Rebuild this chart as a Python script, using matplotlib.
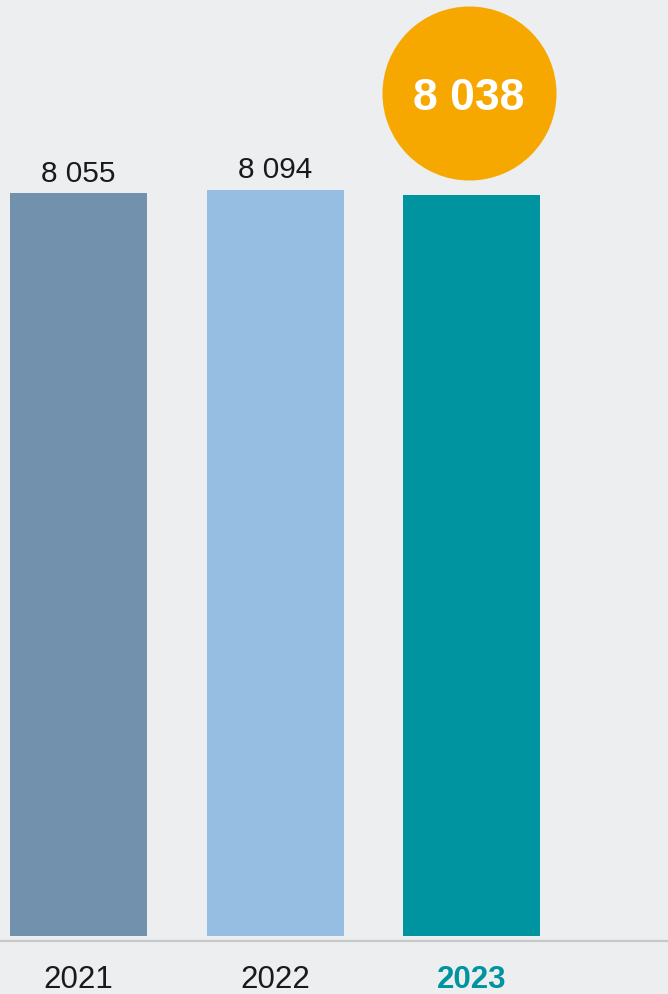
import matplotlib
matplotlib.use("Agg")
import matplotlib.pyplot as plt
from matplotlib.transforms import offset_copy

plt.rcParams['font.family'] = ['Liberation Sans', 'DejaVu Sans']

# datos
anios = ["2021", "2022", "2023"]
valores = [8055, 8094, 8038]
colores = ["#7191ad", "#96bee3", "#0093a0"]
fondo = "#edeef0"


def fmt(v):
    return f"{v:,}".replace(",", " ")


fig = plt.figure(figsize=(6.68, 9.95), dpi=100, facecolor=fondo)
ax = fig.add_axes([0, 53 / 995, 1, 942 / 995])
ax.set_facecolor(fondo)

x = list(range(len(anios)))
ax.bar(x, valores, width=0.697, color=colores, zorder=2)

ax.set_xlim(-0.4, 3.0)
ax.set_ylim(-55, 10160)

for s in ["top", "right", "left"]:
    ax.spines[s].set_visible(False)
ax.spines["bottom"].set_color("#c6c8ca")
ax.spines["bottom"].set_linewidth(1.6)
ax.set_yticks([])

ax.set_xticks(x)
ax.set_xticklabels(anios, fontsize=22.5)
ax.tick_params(axis="x", length=0, pad=16.5)
lbls = ax.get_xticklabels()
for i, t in enumerate(lbls):
    t.set_color("#1a1a1a")
lbls[-1].set_color("#0093a0")
lbls[-1].set_fontweight("bold")

# etiquetas de valor (las dos primeras)
for i in range(len(valores) - 1):
    ax.annotate(fmt(valores[i]), (x[i], valores[i]), xytext=(0, 9),
                textcoords="offset points", ha="center", va="baseline",
                fontsize=21.5, color="#1a1a1a")

# circulo destacado para el ultimo año
trans = offset_copy(ax.transData, fig=fig, x=-2, y=73, units="points")
ax.scatter([x[-1]], [valores[-1]], s=125.3 ** 2, color="#f7a800",
           transform=trans, zorder=3, clip_on=False, linewidths=0)
ax.text(x[-1], valores[-1], fmt(valores[-1]), transform=trans,
        ha="center", va="center_baseline", fontsize=32, fontweight="bold",
        color="white", zorder=4)

fig.savefig("out.png", dpi=100, facecolor=fondo)
